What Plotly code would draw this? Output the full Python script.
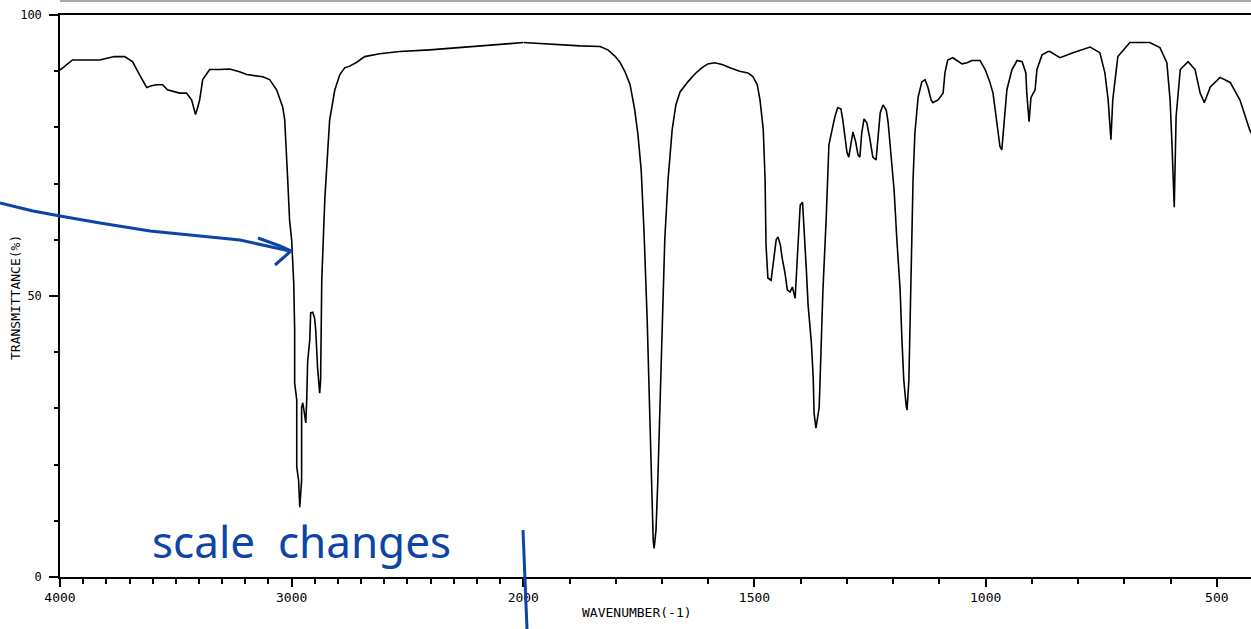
import plotly.graph_objects as go

# ---------------- data ----------------
# high-wavenumber section (4000 -> 2000 cm-1, compressed scale)
wn_hi = [4000, 3946, 3829, 3765, 3721, 3687, 3657, 3626, 3605, 3583, 3557, 3536,
         3484, 3454, 3432, 3423, 3415, 3406, 3397, 3384, 3354, 3311, 3268, 3225,
         3194, 3125, 3095, 3065, 3039, 3030, 3022, 3017, 3009, 3000, 2991, 2987,
         2987, 2978, 2978, 2970, 2965, 2957, 2957, 2952, 2944, 2939, 2935, 2931,
         2922, 2918, 2909, 2901, 2896, 2888, 2879, 2875, 2870, 2866, 2857, 2844,
         2836, 2814, 2792, 2771, 2749, 2719, 2685, 2620, 2534, 2404, 2274, 2145,
         2058, 2000]
tr_hi = [90.2, 92.0, 92.0, 92.6, 92.6, 91.7, 89.4, 87.1, 87.4, 87.6, 87.6, 86.7,
         86.1, 86.1, 84.9, 83.5, 82.3, 83.5, 84.9, 88.5, 90.3, 90.3, 90.4, 89.9,
         89.4, 89.0, 88.5, 86.7, 83.7, 81.4, 76.0, 70.7, 63.5, 60.0, 52.3, 44.0,
         34.5, 31.5, 19.6, 17.2, 12.4, 17.2, 30.2, 31.0, 28.9, 27.4, 31.5, 38.3,
         42.1, 47.0, 47.1, 46.1, 43.9, 37.2, 32.7, 35.0, 52.8, 58.2, 67.1, 76.0,
         81.3, 86.6, 89.4, 90.6, 90.9, 91.6, 92.6, 93.1, 93.5, 93.8, 94.2, 94.5,
         94.9, 95.1]

# low-wavenumber section (2000 -> ~425 cm-1, expanded scale)
wn_lo = [2000, 1964, 1921, 1877, 1834, 1817, 1802, 1791, 1780, 1769, 1759, 1752,
         1745, 1739, 1732, 1726, 1722, 1719, 1717, 1713, 1709, 1704, 1700, 1694,
         1687, 1678, 1670, 1661, 1644, 1629, 1614, 1601, 1586, 1570, 1553, 1532,
         1514, 1503, 1494, 1488, 1481, 1477, 1475, 1471, 1464, 1458, 1453, 1449,
         1444, 1440, 1434, 1429, 1423, 1418, 1412, 1407, 1403, 1401, 1396, 1392,
         1388, 1384, 1377, 1373, 1371, 1367, 1362, 1360, 1356, 1352, 1345, 1341,
         1339, 1332, 1326, 1320, 1313, 1309, 1304, 1300, 1296, 1289, 1287, 1281,
         1276, 1272, 1268, 1263, 1257, 1250, 1244, 1237, 1233, 1228, 1222, 1215,
         1211, 1207, 1202, 1198, 1192, 1185, 1181, 1177, 1172, 1170, 1166, 1161,
         1157, 1153, 1146, 1138, 1131, 1125, 1118, 1114, 1103, 1092, 1088, 1082,
         1071, 1051, 1040, 1030, 1012, 1001, 991, 984, 976, 969, 965, 960,
         954, 943, 932, 921, 913, 911, 906, 902, 893, 889, 878, 865,
         861, 839, 811, 774, 753, 742, 735, 729, 725, 714, 688, 645,
         623, 608, 601, 597, 595, 592, 588, 579, 562, 547, 536, 527,
         514, 493, 471, 450, 429, 424]
tr_lo = [95.1, 94.9, 94.7, 94.5, 94.4, 93.8, 92.7, 91.6, 89.9, 87.6, 83.1, 78.7,
         72.4, 61.7, 45.7, 26.1, 12.0, 6.5, 5.1, 8.3, 17.2, 31.5, 45.7, 60.0,
         70.6, 79.6, 84.0, 86.3, 88.1, 89.5, 90.6, 91.3, 91.5, 91.2, 90.6, 90.0,
         89.7, 89.0, 87.6, 84.9, 79.6, 70.7, 59.1, 53.2, 52.8, 56.9, 60.0, 60.5,
         59.1, 56.7, 54.1, 51.1, 50.7, 51.6, 49.6, 57.3, 63.5, 66.2, 66.7, 61.7,
         55.0, 48.4, 41.8, 35.6, 29.1, 26.5, 28.8, 30.2, 40.4, 50.9, 63.5, 70.6,
         76.9, 79.6, 81.9, 83.5, 83.3, 81.4, 78.3, 75.6, 74.7, 78.1, 79.2, 77.4,
         75.1, 74.7, 79.0, 81.5, 80.8, 77.8, 74.7, 74.2, 78.7, 82.6, 84.0, 83.1,
         81.0, 77.4, 73.6, 68.9, 60.0, 51.1, 42.2, 35.0, 30.6, 29.7, 35.0, 56.4,
         70.6, 79.0, 85.4, 88.1, 88.5, 87.2, 84.9, 84.4, 84.9, 86.1, 89.7, 92.0,
         92.4, 91.3, 91.5, 91.9, 91.9, 90.3, 88.1, 86.1, 81.4, 76.6, 76.0, 80.8,
         86.7, 90.3, 91.9, 91.7, 89.7, 86.1, 81.0, 85.3, 86.7, 90.3, 92.9, 93.5,
         93.5, 92.4, 93.3, 94.3, 93.3, 89.7, 84.9, 77.8, 84.9, 92.6, 95.1, 95.1,
         94.2, 91.5, 84.9, 77.2, 70.6, 65.8, 81.9, 90.3, 91.7, 90.3, 86.1, 84.4,
         87.2, 88.9, 88.0, 84.9, 79.6, 78.7]

hi_major = [4000, 3500, 3000, 2500, 2000]
hi_major_text = ["4000", "", "3000", "", "2000"]
lo_major = [1500, 1000, 500]
lo_major_text = ["1500", "1000", "500"]
y_major = [0, 50, 100]
y_major_text = ["0", "50", "100"]

# ---------------- figure ----------------
W, H = 1251, 629
ML, MR, MT, MB = 60, 0, 15, 52
PW, PH = W - ML - MR, H - MT - MB
SPLIT = (523.3 - ML) / PW

mono = "DejaVu Sans Mono"
blue = "#0c45a6"

fig = go.Figure()
fig.add_trace(go.Scatter(x=wn_hi, y=tr_hi, xaxis="x", yaxis="y", mode="lines",
                         line=dict(color="black", width=1.6), hoverinfo="skip",
                         showlegend=False))
fig.add_trace(go.Scatter(x=wn_lo, y=tr_lo, xaxis="x2", yaxis="y", mode="lines",
                         line=dict(color="black", width=1.6), hoverinfo="skip",
                         showlegend=False))

axis_common = dict(showline=True, linecolor="black", linewidth=1.5, mirror=True,
                   showgrid=False, zeroline=False, ticks="outside",
                   tickcolor="black", tickwidth=1.5, ticklen=8, automargin=False,
                   tickfont=dict(family=mono, size=13, color="black"))

fig.update_layout(
    width=W, height=H,
    margin=dict(l=ML, r=MR, t=MT, b=MB, autoexpand=False),
    paper_bgcolor="white", plot_bgcolor="white",
    xaxis=dict(domain=[0, SPLIT], range=[4000, 2000], anchor="y",
               tickmode="array", tickvals=hi_major, ticktext=hi_major_text,
               minor=dict(tickvals=list(range(3900, 2000, -100)), ticklen=5,
                          tickcolor="black", tickwidth=1.5, ticks="outside"),
               **axis_common),
    xaxis2=dict(domain=[SPLIT, 1], range=[2000, 426], anchor="y",
                tickmode="array", tickvals=lo_major, ticktext=lo_major_text,
                minor=dict(tickvals=list(range(1900, 420, -100)), ticklen=5,
                           tickcolor="black", tickwidth=1.5, ticks="outside"),
                **axis_common),
    yaxis=dict(range=[0, 100], showline=True, linecolor="black", linewidth=1.5,
               showgrid=False, zeroline=False, ticks="outside", automargin=False,
               tickcolor="black", tickwidth=1.5, ticklen=9,
               tickmode="array", tickvals=y_major, ticktext=y_major_text,
               ticklabelstandoff=5,
               minor=dict(tickvals=[10, 20, 30, 40, 60, 70, 80, 90], ticklen=4,
                          tickcolor="black", tickwidth=1.5, ticks="outside"),
               tickfont=dict(family=mono, size=12, color="black")),
)


def P(px, py):
    return ((px - ML) / PW, (MT + PH - py) / PH)


def path(pts):
    s = ""
    for i, (a, b) in enumerate(pts):
        x, y = P(a, b)
        s += ("M" if i == 0 else "L") + f"{x:.5f},{y:.5f} "
    return s.strip()


shapes = []
# light grey rule at the very top
x0, y0 = P(60, 1)
x1, y1 = P(1251, 1)
shapes.append(dict(type="line", xref="paper", yref="paper", x0=x0, y0=y0, x1=x1,
                   y1=y1, line=dict(color="#a8a8a8", width=2)))
# hand-drawn arrow
arrow = [(0, 203), (33, 211), (60, 216), (100, 223), (150, 231), (200, 236),
         (240, 240), (267, 246), (290, 251)]
shapes.append(dict(type="path", xref="paper", yref="paper", path=path(arrow),
                   line=dict(color=blue, width=3)))
head = [(258, 238), (280, 246), (291, 251), (283, 258), (275, 265)]
shapes.append(dict(type="path", xref="paper", yref="paper", path=path(head),
                   line=dict(color=blue, width=3)))
# hand-drawn vertical marker at the scale change
vx0, vy0 = P(523, 530)
vx1, vy1 = P(527, 629)
shapes.append(dict(type="line", xref="paper", yref="paper", x0=vx0, y0=vy0,
                   x1=vx1, y1=vy1, line=dict(color=blue, width=3)))

annotations = []
ax, ay = P(15, 297)
annotations.append(dict(text="TRANSMITTANCE(%)", xref="paper", yref="paper",
                        x=ax, y=ay, showarrow=False, textangle=-90,
                        font=dict(family=mono, size=13, color="black"),
                        xanchor="center", yanchor="middle"))
bx, by = P(637, 612)
annotations.append(dict(text="WAVENUMBER(-1)", xref="paper", yref="paper",
                        x=bx, y=by, showarrow=False,
                        font=dict(family=mono, size=13, color="black"),
                        xanchor="center", yanchor="middle"))
cx, cy = P(301, 541)
annotations.append(dict(text="scale  changes", xref="paper", yref="paper",
                        x=cx, y=cy, showarrow=False,
                        font=dict(family="Noto Sans", size=44, color=blue),
                        xanchor="center", yanchor="middle"))

fig.update_layout(shapes=shapes, annotations=annotations)

fig.write_html("out.html",
               config=dict(displayModeBar=False),
               post_script="document.body.style.margin='0';"
                           "document.body.style.overflow='hidden';")
